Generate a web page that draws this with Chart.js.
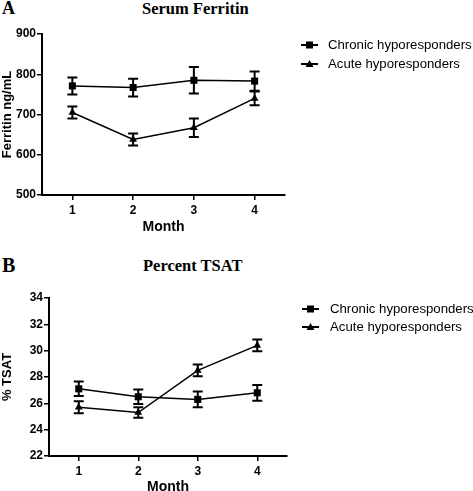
<!DOCTYPE html>
<html>
<head>
<meta charset="utf-8">
<script src="https://cdn.jsdelivr.net/npm/chart.js@4"></script>
<style>
    body { margin: 0; background: #fff; width: 473px; height: 491px; position: relative; overflow: hidden; }
    canvas { position: absolute; left: 0; }
    .panel { position: absolute; font-family: 'Liberation Serif', 'Times New Roman', serif; font-weight: bold; color: #000; line-height: 1; white-space: nowrap; }
</style>
</head>
<body>
<div class="panel" style="left:2px; top:-1px; font-size:18px;">A</div>
<div class="panel" style="left:142px; top:1px; font-size:16.5px;">Serum Ferritin</div>
<div class="panel" style="left:2px; top:255px; font-size:20px;">B</div>
<div class="panel" style="left:143px; top:258px; font-size:16.5px;">Percent TSAT</div>
<canvas id="chartA" width="473" height="240" style="top:0"></canvas>
<canvas id="chartB" width="473" height="254" style="top:240px"></canvas>
<script>
// 데이터
const months = ['1', '2', '3', '4'];
const seriesNames = ['Chronic hyporesponders', 'Acute hyporesponders'];

const ferritinChronic = [771, 767, 785, 783];
const ferritinChronicErr = [21, 22, 33, 24];
const ferritinAcute = [705, 638, 667, 740];
const ferritinAcuteErr = [15, 15, 23, 17];
const ferritinTicks = [500, 900, 100];

const tsatChronic = [27.1, 26.5, 26.3, 26.8];
const tsatChronicErr = [0.55, 0.55, 0.6, 0.6];
const tsatAcute = [25.7, 25.3, 28.5, 30.4];
const tsatAcuteErr = [0.45, 0.4, 0.45, 0.45];
const tsatTicks = [22, 34, 2];

Chart.defaults.font.family = "'Liberation Sans', Arial, sans-serif";
Chart.defaults.color = '#000';

// 오차 막대 플러그인
const errorBars = {
    id: 'errorBars',
    afterDatasetsDraw(chart) {
        const ctx = chart.ctx;
        const yScale = chart.scales.y;
        ctx.save();
        ctx.strokeStyle = '#000';
        ctx.lineWidth = 2;
        chart.data.datasets.forEach((ds, i) => {
            const meta = chart.getDatasetMeta(i);
            meta.data.forEach((pt, j) => {
                const v = ds.data[j];
                const e = ds.errors[j];
                const top = yScale.getPixelForValue(v + e);
                const bot = yScale.getPixelForValue(v - e);
                ctx.beginPath();
                ctx.moveTo(pt.x, top);
                ctx.lineTo(pt.x, bot);
                ctx.moveTo(pt.x - 5, top);
                ctx.lineTo(pt.x + 5, top);
                ctx.moveTo(pt.x - 5, bot);
                ctx.lineTo(pt.x + 5, bot);
                ctx.stroke();
            });
        });
        ctx.restore();
    }
};

// 오른쪽 범례 플러그인
const sideLegend = {
    id: 'sideLegend',
    afterDraw(chart, args, opts) {
        const ctx = chart.ctx;
        ctx.save();
        chart.data.datasets.forEach((ds, i) => {
            const y = opts.y + i * opts.gap;
            ctx.strokeStyle = '#000';
            ctx.lineWidth = 2;
            ctx.beginPath();
            ctx.moveTo(opts.x, y);
            ctx.lineTo(opts.x + 17, y);
            ctx.stroke();
            ctx.fillStyle = '#000';
            const cx = opts.x + 8.5;
            ctx.beginPath();
            if (ds.pointStyle === 'rect') {
                ctx.rect(cx - 3.5, y - 3.5, 7, 7);
            } else {
                ctx.moveTo(cx, y - 4);
                ctx.lineTo(cx + 4, y + 3);
                ctx.lineTo(cx - 4, y + 3);
                ctx.closePath();
            }
            ctx.fill();
            ctx.font = "13.2px 'Liberation Sans', Arial, sans-serif";
            ctx.textBaseline = 'middle';
            ctx.fillText(ds.label, opts.textX, y);
        });
        ctx.restore();
    }
};

function makeChart(id, chronic, chronicErr, acute, acuteErr, ticks, yTitle, box, legend) {
    const ctx = document.getElementById(id).getContext('2d');
    const common = {
        borderColor: '#000',
        backgroundColor: '#000',
        borderWidth: 1.5,
        pointBorderWidth: 0,
        tension: 0,
        clip: false
    };
    return new Chart(ctx, {
        type: 'line',
        data: {
            labels: months,
            datasets: [
                Object.assign({ label: seriesNames[0], data: chronic, errors: chronicErr, pointStyle: 'rect', pointRadius: 5 }, common),
                Object.assign({ label: seriesNames[1], data: acute, errors: acuteErr, pointStyle: 'triangle', pointRadius: 4.5 }, common)
            ]
        },
        options: {
            responsive: false,
            animation: false,
            layout: { padding: { top: box.top, right: box.right, left: 0, bottom: 0 } },
            scales: {
                x: {
                    type: 'category',
                    offset: true,
                    grid: { drawOnChartArea: false, drawTicks: true, tickLength: 5, color: '#000', lineWidth: 1.5, offset: false },
                    border: { color: '#000', width: 2 },
                    ticks: { font: { size: 12, weight: 'bold' }, padding: 3 },
                    title: { display: true, text: 'Month', font: { size: 14, weight: 'bold', lineHeight: 1 }, padding: { top: 0, bottom: box.titlePad } },
                    afterFit(scale) { scale.height = box.xHeight; }
                },
                y: {
                    min: ticks[0],
                    max: ticks[1],
                    grid: { drawOnChartArea: false, drawTicks: true, tickLength: 5, color: '#000', lineWidth: 1.5 },
                    border: { color: '#000', width: 2 },
                    ticks: { stepSize: ticks[2], font: { size: 12, weight: 'bold' }, padding: 1 },
                    title: { display: true, text: yTitle, font: { size: 13, weight: 'bold', lineHeight: 1 }, padding: { top: 1, bottom: 0 } },
                    afterFit(scale) { scale.width = box.yWidth; }
                }
            },
            plugins: {
                legend: { display: false },
                tooltip: { enabled: false },
                sideLegend: legend
            }
        },
        plugins: [errorBars, sideLegend]
    });
}

makeChart('chartA', ferritinChronic, ferritinChronicErr, ferritinAcute, ferritinAcuteErr, ferritinTicks,
    'Ferritin ng/mL',
    { top: 34, right: 188, yWidth: 42, xHeight: 45, titlePad: 6 },
    { x: 301, textX: 328, y: 45, gap: 19 });

makeChart('chartB', tsatChronic, tsatChronicErr, tsatAcute, tsatAcuteErr, tsatTicks,
    '% TSAT',
    { top: 58, right: 186, yWidth: 49, xHeight: 38, titlePad: 0 },
    { x: 302, textX: 330, y: 69, gap: 18 });
</script>
</body>
</html>
